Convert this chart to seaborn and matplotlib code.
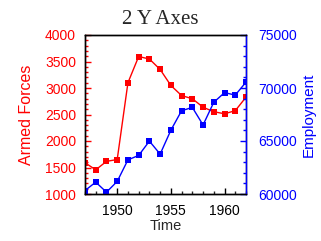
import matplotlib
matplotlib.use("Agg")
import matplotlib.pyplot as plt
from matplotlib.ticker import MultipleLocator
import seaborn as sns
import pandas as pd

years = list(range(1947, 1963))
armed_forces = [1590, 1456, 1616, 1650, 3099, 3594, 3547, 3350, 3048, 2857, 2798, 2637, 2552, 2514, 2572, 2827]
employment = [60323, 61122, 60171, 61187, 63221, 63639, 64989, 63761, 66019, 67857, 68169, 66513, 68655, 69564, 69331, 70551]

df = pd.DataFrame({"Time": years, "Armed": armed_forces, "Employed": employment})

sns.set_style("ticks")
plt.rcParams['font.family'] = ['Liberation Sans', 'DejaVu Sans']

fig = plt.figure(figsize=(3.21, 2.41), dpi=100)
ax = fig.add_axes([85/321, 1 - 194/241, 161/321, 159/241])
ax2 = ax.twinx()

sns.lineplot(data=df, x="Time", y="Armed", ax=ax, color="#ff0000", marker="s",
             markersize=4.5, markeredgewidth=0, linewidth=1)
sns.lineplot(data=df, x="Time", y="Employed", ax=ax2, color="#0000ff", marker="s",
             markersize=4.5, markeredgewidth=0, linewidth=1)

ax.set_xlim(1947, 1962)
ax.set_ylim(1000, 4000)
ax2.set_ylim(60000, 75000)

ax.xaxis.set_major_locator(MultipleLocator(5))
ax.xaxis.set_minor_locator(MultipleLocator(1))
ax.yaxis.set_major_locator(MultipleLocator(500))
ax.yaxis.set_minor_locator(MultipleLocator(100))
ax2.yaxis.set_major_locator(MultipleLocator(5000))
ax2.yaxis.set_minor_locator(MultipleLocator(1000))

fs = 10
ax.tick_params(axis="x", which="major", direction="in", length=4, width=1, labelsize=fs, pad=7, colors="black")
ax.tick_params(axis="x", which="minor", direction="in", length=2, width=1)
ax.tick_params(axis="y", which="major", direction="in", length=4, width=1, labelsize=fs, pad=6.5, colors="#ff0000")
ax.tick_params(axis="y", which="minor", direction="in", length=2, width=1, colors="#ff0000")
ax2.tick_params(axis="y", which="major", direction="in", length=4, width=1, labelsize=fs, pad=9, colors="#0000ff")
ax2.tick_params(axis="y", which="minor", direction="in", length=2, width=1, colors="#0000ff")

for a in (ax, ax2):
    for s in a.spines.values():
        s.set_visible(True)
        s.set_linewidth(1)
        s.set_color("black")
ax2.spines["right"].set_color("#0000ff")

ax.set_xlabel("Time", fontsize=10.5, labelpad=1)
ax.set_ylabel("Armed Forces", fontsize=11.5, color="#ff0000", labelpad=7.5)
ax2.set_ylabel("Employment", fontsize=11, color="#0000ff", labelpad=3)

fig.suptitle("2 Y Axes", fontsize=15, family="Liberation Serif", y=0.96)

fig.savefig("out.png", dpi=100)
